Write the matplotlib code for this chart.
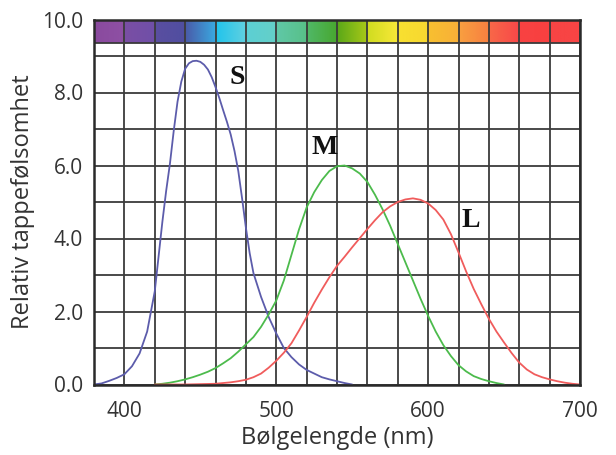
import numpy as np
import matplotlib
matplotlib.use("Agg")
import matplotlib.pyplot as plt
from matplotlib.colors import to_rgb

# ---- data ----
s_wl = [380, 385, 390, 395, 400, 405, 410, 415, 420, 425, 427.5, 430, 432.5, 435, 437.5,
        440, 442.5, 445, 447.5, 450, 452.5, 455, 457.5, 460, 462.5, 465, 467.5, 470, 472.5,
        475, 477.5, 480, 482.5, 485, 490, 495, 500, 505, 510, 515, 520, 525,
        530, 535, 540, 545, 550]
s_val = [0.0, 0.03, 0.1, 0.18, 0.28, 0.5, 0.85, 1.45, 2.55, 4.45, 5.3, 6.05, 6.95, 7.75, 8.3,
         8.65, 8.8, 8.86, 8.87, 8.84, 8.76, 8.63, 8.42, 8.15, 7.85, 7.52, 7.2, 6.85, 6.4,
         5.85, 5.1, 4.3, 3.6, 3.05, 2.4, 1.85, 1.4, 1.0, 0.75, 0.55, 0.4, 0.3,
         0.2, 0.14, 0.09, 0.04, 0.0]

m_wl = [420, 425, 430, 435, 440, 445, 450, 455, 460, 465, 470, 475, 480, 485, 490,
        495, 500, 505, 510, 515, 520, 525, 530, 535, 540, 545, 550, 555, 560, 565,
        570, 575, 580, 585, 590, 595, 600, 605, 610, 615, 620, 625, 630, 635, 640,
        645, 650]
m_val = [0.0, 0.02, 0.05, 0.09, 0.14, 0.2, 0.27, 0.35, 0.45, 0.58, 0.72, 0.9, 1.1, 1.3, 1.58,
         1.92, 2.3, 2.85, 3.55, 4.25, 4.85, 5.27, 5.6, 5.85, 5.98, 6.0, 5.92, 5.78, 5.55, 5.2,
         4.8, 4.35, 3.85, 3.35, 2.85, 2.35, 1.88, 1.45, 1.08, 0.78, 0.53, 0.36, 0.23, 0.15, 0.09,
         0.04, 0.0]

l_wl = [420, 430, 440, 450, 460, 465, 470, 475, 480, 485, 490, 495, 500, 505, 510,
        515, 520, 525, 530, 535, 540, 545, 550, 555, 560, 565, 570, 575, 580, 585,
        590, 595, 600, 605, 610, 615, 620, 625, 630, 635, 640, 645, 650, 655, 660,
        665, 670, 675, 680, 685, 690, 695, 700]
l_val = [0.0, 0.0, 0.0, 0.01, 0.02, 0.04, 0.06, 0.09, 0.13, 0.2, 0.3, 0.46, 0.65, 0.87, 1.13,
         1.48, 1.85, 2.24, 2.6, 2.94, 3.25, 3.5, 3.76, 4.01, 4.26, 4.5, 4.72, 4.88, 5.0, 5.07,
         5.1, 5.06, 4.96, 4.78, 4.52, 4.12, 3.62, 3.1, 2.62, 2.2, 1.8, 1.45, 1.15, 0.86, 0.6,
         0.41, 0.28, 0.2, 0.14, 0.09, 0.05, 0.02, 0.0]

curve_names = ["S", "M", "L"]
label_pos = [(474, 8.42), (532, 6.5), (628, 4.5)]

x_ticks = [400, 500, 600, 700]
y_ticks = [0.0, 2.0, 4.0, 6.0, 8.0, 10.0]
x_label = "Bølgelengde (nm)"
y_label = "Relativ tappefølsomhet"

# spectrum bar: 16 cells, each with a start and end colour
cell_start = ["#8a4a9e", "#7a4ea4", "#5a4ea0", "#4a5aa8", "#20c4ec", "#5ccfd4", "#60c8a8", "#50b868",
              "#5aa818", "#d0dc20", "#f8e030", "#f8c030", "#f8a040", "#f86848", "#f84242", "#f84444"]
cell_end = ["#8e50a4", "#7050a8", "#504ea0", "#3aa8e0", "#60d0e0", "#64d0c8", "#58c088", "#48a830",
            "#a8c818", "#f8e838", "#f8d830", "#f8b038", "#f88040", "#f84848", "#f84040", "#f84444"]

# ---- figure ----
plt.rcParams['font.family'] = ['Open Sans', 'DejaVu Sans']
fig = plt.figure(figsize=(6.16, 4.55), dpi=100)
ax = fig.add_axes([94 / 616, 1 - 384.5 / 455, (580 - 94) / 616, (384.5 - 19.5) / 455])

xmin, xmax, ymin, ymax = 380, 700, 0, 10
ax.set_xlim(xmin, xmax)
ax.set_ylim(ymin, ymax)

# spectrum bar
ncols_per_cell = 40
rows = []
for cs, ce in zip(cell_start, cell_end):
    a = np.array(to_rgb(cs)); b = np.array(to_rgb(ce))
    t = np.linspace(0, 1, ncols_per_cell)[:, None]
    rows.append(a * (1 - t) + b * t)
img = np.concatenate(rows, axis=0)[None, :, :]
bar_bottom = 9.35
ax.imshow(img, extent=[xmin, xmax, bar_bottom, ymax], aspect='auto', zorder=1,
          interpolation='bilinear')
ax.axhline(bar_bottom, color='#3a3a3a', lw=1.3, zorder=2)

# grid
grid_col = '#3c3c3c'
for xv in np.arange(xmin, xmax + 1, 20):
    ax.axvline(xv, color=grid_col, lw=1.3, zorder=2)
for yv in np.arange(ymin, ymax + 0.5, 1.0):
    ax.axhline(yv, color=grid_col, lw=1.3, zorder=2)

# curves
kw = dict(lw=1.3, zorder=3, solid_joinstyle='round', solid_capstyle='round')
ax.plot(s_wl, s_val, color='#5c5cab', **kw)
ax.plot(m_wl, m_val, color='#4cbb4c', **kw)
ax.plot(l_wl, l_val, color='#f05c5c', **kw)

for name, (px, py) in zip(curve_names, label_pos):
    ax.text(px, py, name, family='Liberation Serif', fontweight='bold', fontsize=20,
            ha='center', va='center', color='#111111', zorder=4)

for sp in ax.spines.values():
    sp.set_color('#2a2a2a')
    sp.set_linewidth(1.8)
    sp.set_zorder(5)

ax.set_xticks(x_ticks)
ax.set_xticklabels([str(v) for v in x_ticks])
ax.set_yticks(y_ticks)
ax.set_yticklabels([f"{v:.1f}" for v in y_ticks])
ax.tick_params(length=0, labelsize=15, colors='#333333', pad=8)
ax.tick_params(axis='x', pad=12)
ax.set_xlabel(x_label, fontsize=17, color='#333333', labelpad=3)
ax.set_ylabel(y_label, fontsize=17, color='#333333', labelpad=5)

fig.savefig("out.png", dpi=100)
